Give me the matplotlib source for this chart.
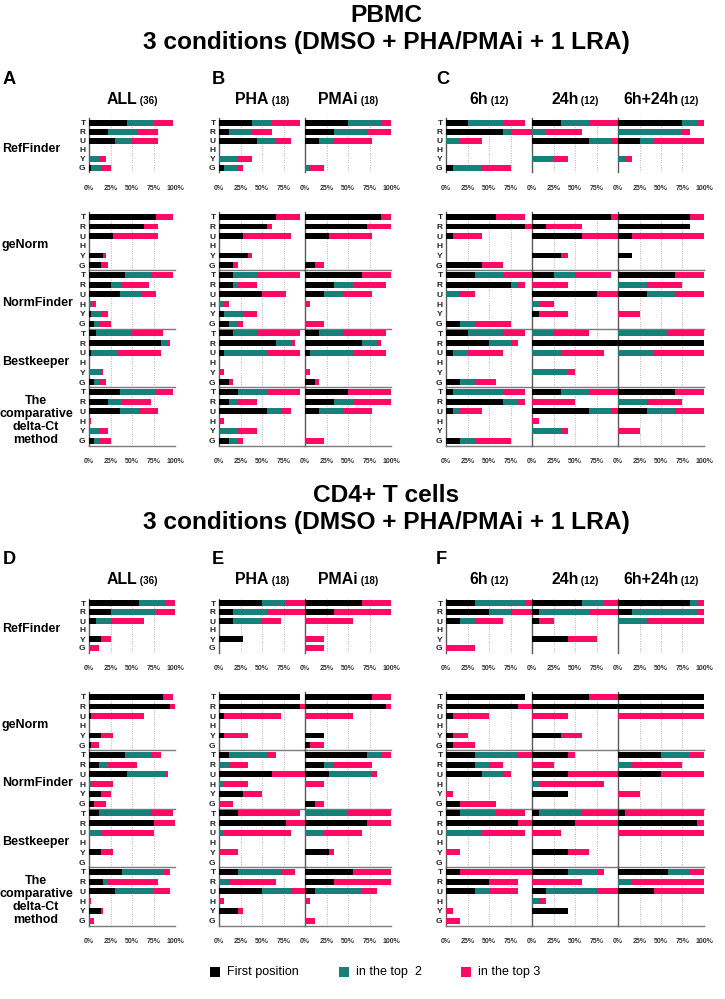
import matplotlib
matplotlib.use('Agg')
import matplotlib.pyplot as plt
from matplotlib import font_manager
from matplotlib.patches import Rectangle
import numpy as np

# ---------------- data ----------------
CATS = ['T', 'R', 'U', 'H', 'Y', 'G']
METHODS = ['RefFinder', 'geNorm', 'NormFinder', 'Bestkeeper',
           'The\ncomparative\ndelta-Ct\nmethod']
COLUMNS = ['ALL', 'PHA', 'PMAi', '6h', '24h', '6h+24h']
COL_N = ['(36)', '(18)', '(18)', '(12)', '(12)', '(12)']
SERIES = ['First position', 'in the top  2', 'in the top 3']
XTICKS = [0, 25, 50, 75, 100]
XTICKLABELS = ['0%', '25%', '50%', '75%', '100%']

# each: (first position, in top 2, in top 3) cumulative %, order T R U H Y G
# ---- PBMC ----
PB_ALL_REF = ([44.4, 22.2, 30.6, 0, 0, 2.8], [75, 55.6, 50, 0, 11.1, 13.9], [97.2, 80.6, 80.6, 0, 19.4, 25])
PB_ALL_GEN = ([77.8, 63.9, 27.8, 0, 16.7, 13.9], [77.8, 63.9, 27.8, 0, 16.7, 13.9], [97.2, 80.6, 80.6, 0, 19.4, 22.2])
PB_ALL_NOR = ([41.7, 25, 36.1, 0, 2.8, 5.6], [72.2, 38.9, 61.1, 2.8, 13.9, 11.1], [97.2, 69.4, 77.8, 8.3, 22.2, 25])
PB_ALL_BES = ([8.3, 83.3, 2.8, 0, 0, 5.6], [50, 91.7, 33.3, 0, 13.9, 11.1], [86.1, 94.4, 83.3, 0, 16.7, 19.4])
PB_ALL_DEL = ([36.1, 22.2, 36.1, 0, 0, 5.6], [77.8, 38.9, 58.3, 0, 11.1, 11.1], [97.2, 72.2, 80.6, 2.8, 22.2, 25])

PB_PHA_REF = ([38.9, 11.1, 44.4, 0, 0, 5.6], [61.1, 38.9, 66.7, 0, 22.2, 22.2], [94.4, 61.1, 83.3, 0, 38.9, 27.8])
PB_PHA_GEN = ([66.7, 55.6, 27.8, 0, 33.3, 16.7], [66.7, 55.6, 27.8, 0, 33.3, 16.7], [94.4, 61.1, 83.3, 0, 38.9, 22.2])
PB_PHA_NOR = ([16.7, 16.7, 50, 0, 5.6, 11.1], [44.4, 22.2, 50, 5.6, 27.8, 22.2], [94.4, 44.4, 77.8, 11.1, 44.4, 27.8])
PB_PHA_BES = ([16.7, 66.7, 5.6, 0, 0, 11.1], [44.4, 83.3, 55.6, 0, 0, 11.1], [94.4, 88.9, 94.4, 0, 5.6, 16.7])
PB_PHA_DEL = ([22.2, 11.1, 55.6, 0, 0, 11.1], [55.6, 22.2, 72.2, 0, 22.2, 22.2], [94.4, 44.4, 83.3, 5.6, 44.4, 27.8])

PB_PMA_REF = ([50, 33.3, 16.7, 0, 0, 0], [88.9, 72.2, 33.3, 0, 0, 5.6], [100, 100, 77.8, 0, 0, 22.2])
PB_PMA_GEN = ([88.9, 72.2, 27.8, 0, 0, 11.1], [88.9, 72.2, 27.8, 0, 0, 11.1], [100, 100, 77.8, 0, 0, 22.2])
PB_PMA_NOR = ([66.7, 33.3, 22.2, 0, 0, 0], [66.7, 55.6, 44.4, 0, 0, 0], [100, 94.4, 77.8, 5.6, 0, 22.2])
PB_PMA_BES = ([16.7, 66.7, 5.6, 0, 0, 11.1], [44.4, 83.3, 55.6, 0, 0, 11.1], [94.4, 88.9, 94.4, 0, 5.6, 16.7])
PB_PMA_DEL = ([50, 33.3, 16.7, 0, 0, 0], [50, 55.6, 44.4, 0, 0, 0], [100, 100, 77.8, 0, 0, 22.2])

PB_6H_REF = ([25, 66.7, 0, 0, 0, 8.3], [66.7, 75, 16.7, 0, 0, 41.7], [91.7, 100, 41.7, 0, 0, 75])
PB_6H_GEN = ([58.3, 91.7, 8.3, 0, 0, 41.7], [58.3, 91.7, 8.3, 0, 0, 41.7], [91.7, 100, 41.7, 0, 0, 66.7])
PB_6H_NOR = ([33.3, 75, 0, 0, 0, 16.7], [66.7, 83.3, 16.7, 0, 0, 33.3], [100, 91.7, 33.3, 0, 0, 75])
PB_6H_BES = ([25, 50, 8.3, 0, 0, 16.7], [66.7, 75, 25, 0, 0, 33.3], [91.7, 83.3, 66.7, 0, 0, 58.3])
PB_6H_DEL = ([8.3, 66.7, 8.3, 0, 0, 16.7], [66.7, 83.3, 16.7, 0, 0, 33.3], [91.7, 91.7, 41.7, 0, 0, 75])

PB_24H_REF = ([33.3, 0, 66.7, 0, 0, 0], [66.7, 16.7, 91.7, 0, 25, 0], [100, 58.3, 100, 0, 41.7, 0])
PB_24H_GEN = ([91.7, 16.7, 58.3, 0, 33.3, 0], [91.7, 16.7, 58.3, 0, 33.3, 0], [100, 58.3, 100, 0, 41.7, 0])
PB_24H_NOR = ([25, 0, 75, 0, 8.3, 0], [50, 0, 75, 8.3, 8.3, 0], [91.7, 41.7, 100, 25, 41.7, 0])
PB_24H_BES = ([0, 100, 0, 0, 0, 0], [25, 100, 33.3, 0, 41.7, 0], [66.7, 100, 83.3, 0, 50, 0])
PB_24H_DEL = ([33.3, 0, 66.7, 0, 0, 0], [66.7, 0, 91.7, 0, 33.3, 0], [100, 50, 100, 8.3, 41.7, 0])

PB_BOTH_REF = ([75, 0, 25, 0, 0, 0], [91.7, 75, 41.7, 0, 8.3, 0], [100, 83.3, 100, 0, 16.7, 0])
PB_BOTH_GEN = ([83.3, 83.3, 16.7, 0, 16.7, 0], [83.3, 83.3, 16.7, 0, 16.7, 0], [100, 83.3, 100, 0, 16.7, 0])
PB_BOTH_NOR = ([66.7, 0, 33.3, 0, 0, 0], [66.7, 33.3, 66.7, 0, 0, 0], [100, 75, 100, 0, 25, 0])
PB_BOTH_BES = ([0, 100, 0, 0, 0, 0], [58.3, 100, 41.7, 0, 0, 0], [100, 100, 100, 0, 0, 0])
PB_BOTH_DEL = ([66.7, 0, 33.3, 0, 0, 0], [66.7, 33.3, 66.7, 0, 0, 0], [100, 75, 100, 0, 25, 0])

# ---- CD4+ T cells ----
CD_ALL_REF = ([58.3, 25, 8.3, 0, 13.9, 0], [88.9, 77.8, 25, 0, 13.9, 0], [100, 100, 63.9, 0, 25, 11.1])
CD_ALL_GEN = ([86.1, 94.4, 2.8, 0, 13.9, 2.8], [86.1, 94.4, 2.8, 0, 13.9, 2.8], [97.2, 100, 63.9, 0, 27.8, 11.1])
CD_ALL_NOR = ([41.7, 11.1, 44.4, 0, 13.9, 5.6], [72.2, 22.2, 88.9, 2.8, 13.9, 5.6], [83.3, 55.6, 91.7, 27.8, 25, 19.4])
CD_ALL_BES = ([11.1, 75, 0, 0, 13.9, 0], [72.2, 75, 13.9, 0, 13.9, 0], [97.2, 100, 75, 0, 27.8, 0])
CD_ALL_DEL = ([38.9, 16.7, 30.6, 0, 13.9, 0], [86.1, 22.2, 75, 0, 13.9, 0], [94.4, 80.6, 94.4, 2.8, 16.7, 5.6])

CD_PHA_REF = ([50, 16.7, 16.7, 0, 27.8, 0], [77.8, 55.6, 50, 0, 27.8, 0], [100, 100, 72.2, 0, 27.8, 0])
CD_PHA_GEN = ([94.4, 94.4, 5.6, 0, 5.6, 0], [94.4, 94.4, 5.6, 0, 5.6, 0], [94.4, 100, 72.2, 0, 33.3, 0])
CD_PHA_NOR = ([11.1, 0, 61.1, 0, 27.8, 0], [55.6, 11.1, 61.1, 5.6, 27.8, 0], [66.7, 33.3, 100, 33.3, 50, 16.7])
CD_PHA_BES = ([22.2, 77.8, 0, 0, 0, 0], [22.2, 77.8, 5.6, 0, 0, 0], [94.4, 100, 83.3, 0, 22.2, 0])
CD_PHA_DEL = ([22.2, 0, 50, 0, 22.2, 0], [72.2, 11.1, 83.3, 0, 22.2, 0], [88.9, 66.7, 100, 5.6, 27.8, 0])

CD_PMA_REF = ([66.7, 33.3, 0, 0, 0, 0], [66.7, 33.3, 0, 0, 0, 0], [100, 100, 55.6, 0, 22.2, 22.2])
CD_PMA_GEN = ([77.8, 94.4, 0, 0, 22.2, 5.6], [77.8, 94.4, 0, 0, 22.2, 5.6], [100, 100, 55.6, 0, 22.2, 22.2])
CD_PMA_NOR = ([72.2, 22.2, 27.8, 0, 0, 11.1], [88.9, 33.3, 77.8, 0, 0, 11.1], [100, 77.8, 83.3, 22.2, 0, 22.2])
CD_PMA_BES = ([0, 72.2, 0, 0, 27.8, 0], [50, 72.2, 22.2, 0, 27.8, 0], [100, 100, 66.7, 0, 33.3, 0])
CD_PMA_DEL = ([55.6, 33.3, 11.1, 0, 0, 0], [55.6, 33.3, 66.7, 0, 0, 0], [100, 100, 83.3, 5.6, 0, 11.1])

CD_6H_REF = ([33.3, 50, 16.7, 0, 0, 0], [91.7, 75, 33.3, 0, 0, 0], [100, 100, 66.7, 0, 0, 33.3])
CD_6H_GEN = ([91.7, 83.3, 8.3, 0, 8.3, 8.3], [91.7, 83.3, 8.3, 0, 8.3, 8.3], [91.7, 100, 50, 0, 25, 33.3])
CD_6H_NOR = ([33.3, 33.3, 41.7, 0, 0, 16.7], [83.3, 50, 66.7, 0, 0, 16.7], [100, 66.7, 75, 0, 8.3, 58.3])
CD_6H_BES = ([16.7, 83.3, 0, 0, 0, 0], [58.3, 83.3, 41.7, 0, 0, 0], [91.7, 100, 91.7, 0, 16.7, 0])
CD_6H_DEL = ([16.7, 50, 33.3, 0, 0, 0], [16.7, 50, 50, 0, 0, 0], [100, 83.3, 83.3, 0, 8.3, 16.7])

CD_24H_REF = ([58.3, 8.3, 8.3, 0, 41.7, 0], [83.3, 66.7, 8.3, 0, 41.7, 0], [100, 100, 25, 0, 75, 0])
CD_24H_GEN = ([66.7, 100, 0, 0, 33.3, 0], [66.7, 100, 0, 0, 33.3, 0], [100, 100, 41.7, 0, 58.3, 0])
CD_24H_NOR = ([41.7, 0, 41.7, 0, 41.7, 0], [41.7, 0, 41.7, 8.3, 41.7, 0], [50, 25, 100, 83.3, 41.7, 0])
CD_24H_BES = ([8.3, 50, 0, 0, 41.7, 0], [58.3, 50, 0, 0, 41.7, 0], [100, 100, 33.3, 0, 66.7, 0])
CD_24H_DEL = ([41.7, 0, 16.7, 0, 41.7, 0], [75, 0, 75, 8.3, 41.7, 0], [83.3, 58.3, 100, 16.7, 41.7, 0])

CD_BOTH_REF = ([83.3, 16.7, 0, 0, 0, 0], [91.7, 91.7, 33.3, 0, 0, 0], [100, 100, 100, 0, 0, 0])
CD_BOTH_GEN = ([100, 100, 0, 0, 0, 0], [100, 100, 0, 0, 0, 0], [100, 100, 100, 0, 0, 0])
CD_BOTH_NOR = ([50, 0, 50, 0, 0, 0], [83.3, 16.7, 50, 0, 0, 0], [100, 75, 100, 0, 25, 0])
CD_BOTH_BES = ([8.3, 91.7, 0, 0, 0, 0], [8.3, 91.7, 0, 0, 0, 0], [100, 100, 100, 0, 0, 0])
CD_BOTH_DEL = ([58.3, 0, 41.7, 0, 0, 0], [83.3, 16.7, 41.7, 0, 0, 0], [100, 100, 100, 0, 0, 0])

SECTIONS = [
    ('PBMC', [[PB_ALL_REF, PB_ALL_GEN, PB_ALL_NOR, PB_ALL_BES, PB_ALL_DEL],
              [PB_PHA_REF, PB_PHA_GEN, PB_PHA_NOR, PB_PHA_BES, PB_PHA_DEL],
              [PB_PMA_REF, PB_PMA_GEN, PB_PMA_NOR, PB_PMA_BES, PB_PMA_DEL],
              [PB_6H_REF, PB_6H_GEN, PB_6H_NOR, PB_6H_BES, PB_6H_DEL],
              [PB_24H_REF, PB_24H_GEN, PB_24H_NOR, PB_24H_BES, PB_24H_DEL],
              [PB_BOTH_REF, PB_BOTH_GEN, PB_BOTH_NOR, PB_BOTH_BES, PB_BOTH_DEL]], 'ABC'),
    ('CD4+ T cells', [[CD_ALL_REF, CD_ALL_GEN, CD_ALL_NOR, CD_ALL_BES, CD_ALL_DEL],
                      [CD_PHA_REF, CD_PHA_GEN, CD_PHA_NOR, CD_PHA_BES, CD_PHA_DEL],
                      [CD_PMA_REF, CD_PMA_GEN, CD_PMA_NOR, CD_PMA_BES, CD_PMA_DEL],
                      [CD_6H_REF, CD_6H_GEN, CD_6H_NOR, CD_6H_BES, CD_6H_DEL],
                      [CD_24H_REF, CD_24H_GEN, CD_24H_NOR, CD_24H_BES, CD_24H_DEL],
                      [CD_BOTH_REF, CD_BOTH_GEN, CD_BOTH_NOR, CD_BOTH_BES, CD_BOTH_DEL]], 'DEF'),
]
SUBTITLE = '3 conditions (DMSO + PHA/PMAi + 1 LRA)'

# ---------------- style / layout ----------------
COLORS = ['#000000', '#17807b', '#ff0b66']
W, H = 725, 999
fig = plt.figure(figsize=(W / 100, H / 100), dpi=100)
fig.patch.set_facecolor('white')

names = {f.name for f in font_manager.fontManager.ttflist}
if 'Liberation Sans Narrow' in names:
    NARROW, NS = 'Liberation Sans Narrow', 1.0
else:
    NARROW, NS = ('Liberation Sans' if 'Liberation Sans' in names else 'DejaVu Sans'), 0.82
SANS = 'Liberation Sans' if 'Liberation Sans' in names else 'DejaVu Sans'

COL_X = [(89, 175), (219, 305), (305, 391), (446, 532), (532, 618), (618, 704)]
FIRST_IN_PANEL = [True, True, False, True, False, False]
LAST_IN_PANEL = [True, False, True, False, False, True]
ROW_Y = [(118.5, 172.5), (212, 270), (270, 328.5), (328.5, 387), (387, 445.5)]
SEC_DY = [0, 480]
PANEL_LETTER_X = [3, 212, 436]


def add_ax(x0, y0, x1, y1):
    return fig.add_axes([x0 / W, 1 - y1 / H, (x1 - x0) / W, (y1 - y0) / H])


def fx(x):
    return x / W


def fy(y):
    return 1 - y / H


renderer = fig.canvas.get_renderer()


def two_part(xc, yb, big, small, bs, ss):
    t1 = fig.text(0, 0, big, fontsize=bs, fontweight='bold', family=NARROW, ha='left', va='baseline')
    t2 = fig.text(0, 0, ' ' + small, fontsize=ss, fontweight='bold', family=SANS, ha='left', va='baseline')
    w1 = t1.get_window_extent(renderer).width
    w2 = t2.get_window_extent(renderer).width
    x0 = xc - (w1 + w2) / 2
    t1.set_position((fx(x0), fy(yb)))
    t2.set_position((fx(x0 + w1), fy(yb)))


for si, (sec_name, cols, letters) in enumerate(SECTIONS):
    dy = SEC_DY[si]
    fig.text(fx(386), fy(16 + dy), sec_name, fontsize=21.5 * NS, fontweight='bold', family=NARROW,
             ha='center', va='center')
    fig.text(fx(386), fy(43 + dy), SUBTITLE, fontsize=21.5 * NS, fontweight='bold', family=NARROW,
             ha='center', va='center')
    for li, letter in enumerate(letters):
        fig.text(fx(PANEL_LETTER_X[li]), fy(80 + dy), letter, fontsize=16 * NS, fontweight='bold',
                 family=NARROW, ha='left', va='center')
    for ci in range(6):
        x0, x1 = COL_X[ci]
        two_part((x0 + x1) / 2, 104 + dy, COLUMNS[ci], COL_N[ci], 14 * NS, 7)
        for ri in range(5):
            y0, y1 = ROW_Y[ri]
            ax = add_ax(x0, y0 + dy, x1, y1 + dy)
            first, top2, top3 = [np.array(v, float) for v in cols[ci][ri]]
            yy = np.arange(len(CATS))
            hgt = 0.62
            ax.barh(yy, first, height=hgt, color=COLORS[0], zorder=3, label=SERIES[0])
            ax.barh(yy, top2 - first, left=first, height=hgt, color=COLORS[1], zorder=3, label=SERIES[1])
            ax.barh(yy, top3 - top2, left=top2, height=hgt, color=COLORS[2], zorder=3, label=SERIES[2])
            ax.set_xlim(0, 100)
            ax.set_ylim(len(CATS) - 0.5, -0.5)
            ax.set_xticks(XTICKS)
            ax.grid(axis='x', color='#a0a0a0', linestyle=(0, (1, 1.8)), linewidth=0.6, zorder=0)
            ax.set_axisbelow(True)
            for s in ('top', 'right'):
                ax.spines[s].set_visible(False)
            ax.spines['left'].set_color('#5a5a5a')
            ax.spines['left'].set_linewidth(1.0)
            if ri == 0:
                ax.spines['bottom'].set_visible(False)
            else:
                ax.spines['bottom'].set_color('#7a7a7a')
                ax.spines['bottom'].set_linewidth(1.0)
            ax.set_facecolor('none')
            if ri in (0, 4):
                labs = list(XTICKLABELS)
                if not LAST_IN_PANEL[ci]:
                    labs[-1] = ''
                ax.set_xticklabels(labs, fontsize=5, fontweight='bold', family=SANS, color='#333333')
                ax.tick_params(axis='x', length=0, pad=9)
            else:
                ax.set_xticklabels([])
                ax.tick_params(axis='x', length=0)
            ax.set_yticks(yy)
            if FIRST_IN_PANEL[ci]:
                ax.set_yticklabels(CATS, fontsize=6, fontweight='bold', family=SANS, color='#222222')
                ax.tick_params(axis='y', length=0, pad=2.5)
            else:
                ax.set_yticklabels([])
                ax.tick_params(axis='y', length=0)
            if ci == 0:
                yc = (y0 + y1) / 2 + dy + 4
                if '\n' in METHODS[ri]:
                    fig.text(fx(36), fy(yc), METHODS[ri], fontsize=9, fontweight='bold', family=SANS,
                             ha='center', va='center', multialignment='center', linespacing=1.1)
                else:
                    fig.text(fx(2), fy(yc), METHODS[ri], fontsize=9, fontweight='bold', family=SANS,
                             ha='left', va='center')

# ---------------- legend ----------------
LEG_X = [210, 339, 461]
for i, lab in enumerate(SERIES):
    fig.patches.append(Rectangle((fx(LEG_X[i]), fy(977)), 10 / W, 10 / H, transform=fig.transFigure,
                                 facecolor=COLORS[i], edgecolor='none'))
    fig.text(fx(LEG_X[i] + 17), fy(972), lab, fontsize=9, family=SANS, ha='left', va='center')

fig.savefig('out.png', dpi=100, facecolor='white')
